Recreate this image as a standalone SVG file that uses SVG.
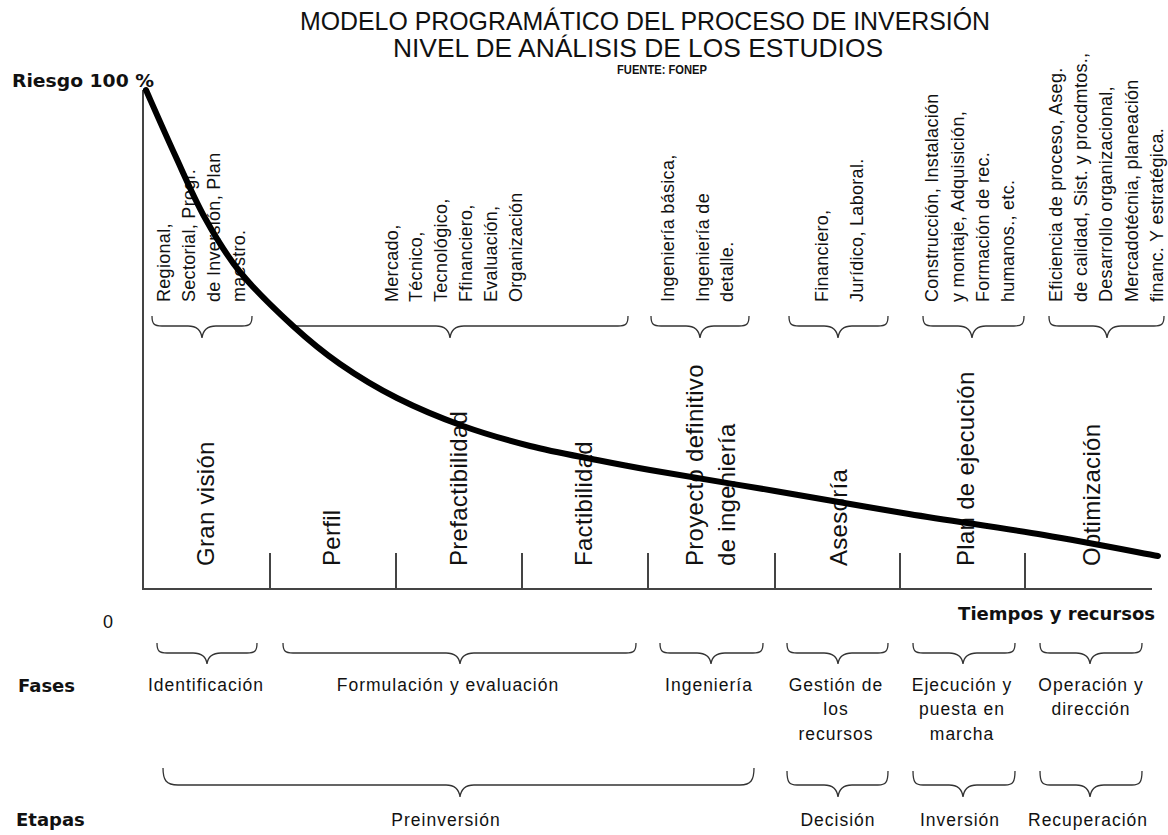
<svg xmlns="http://www.w3.org/2000/svg" width="1168" height="835" viewBox="0 0 1168 835">
<style>
.t{font-family:"Liberation Sans",Arial,sans-serif;fill:#111}
.title{font-size:25.5px;text-anchor:middle}
.rot{font-size:18px;letter-spacing:0.3px}
.big{font-size:24px;letter-spacing:0.3px}
.lbl{font-size:17.5px;letter-spacing:1px;text-anchor:middle}
.b{font-family:"DejaVu Sans",Verdana,sans-serif;font-weight:bold;font-size:18px;fill:#111}
.brace{fill:none;stroke:#333;stroke-width:1.3}
.axis{fill:none;stroke:#444;stroke-width:2}
.curve{fill:none;stroke:#000;stroke-width:6;stroke-linecap:round;stroke-linejoin:round}
</style>
<rect width="1168" height="835" fill="#fff"/>

<g id="title">
<text class="t title" x="645" y="30" textLength="690" lengthAdjust="spacingAndGlyphs">MODELO PROGRAMÁTICO DEL PROCESO DE INVERSIÓN</text>
<text class="t title" x="638" y="57" textLength="490" lengthAdjust="spacingAndGlyphs">NIVEL DE ANÁLISIS DE LOS ESTUDIOS</text>
<text x="662" y="74" text-anchor="middle" font-family="Liberation Sans, Arial, sans-serif" font-weight="bold" font-size="12.5" fill="#111" textLength="90" lengthAdjust="spacingAndGlyphs">FUENTE: FONEP</text>
</g>

<g id="axis-labels">
<text class="b" x="12" y="87" textLength="142" lengthAdjust="spacingAndGlyphs">Riesgo 100 %</text>
<text class="t" x="108" y="628" font-size="18" text-anchor="middle">0</text>
<text class="b" x="1155" y="620" text-anchor="end">Tiempos y recursos</text>
<text class="b" x="18" y="692">Fases</text>
<text class="b" x="16" y="826">Etapas</text>
</g>

<g id="study-regional">
<text class="t rot" transform="translate(170,302) rotate(-90)">Regional,</text>
<text class="t rot" transform="translate(195,302) rotate(-90)">Sectorial, Progr.</text>
<text class="t rot" transform="translate(220,302) rotate(-90)">de Inversión, Plan</text>
<text class="t rot" transform="translate(245,302) rotate(-90)">maestro.</text>
<path class="brace" d="M152,316 C152,324 154,326 162,326 L188,326 C196,326 201,329 202,338 C203,329 208,326 216,326 L242,326 C250,326 252,324 252,316"/>
</g>

<g id="study-mercado">
<text class="t rot" transform="translate(398,302) rotate(-90)">Mercado,</text>
<text class="t rot" transform="translate(422,302) rotate(-90)">Técnico,</text>
<text class="t rot" transform="translate(447,302) rotate(-90)">Tecnológico,</text>
<text class="t rot" transform="translate(472,302) rotate(-90)">Ffinanciero,</text>
<text class="t rot" transform="translate(497,302) rotate(-90)">Evaluación,</text>
<text class="t rot" transform="translate(522,302) rotate(-90)">Organización</text>
<path class="brace" d="M291,326 L436,326 C444,326 449,329 450,338 C451,329 456,326 464,326 L618,326 C626,326 628,324 628,316"/>
</g>

<g id="study-ingenieria">
<text class="t rot" transform="translate(674,302) rotate(-90)">Ingeniería básica,</text>
<text class="t rot" transform="translate(709,302) rotate(-90)">Ingeniería de</text>
<text class="t rot" transform="translate(733,302) rotate(-90)">detalle.</text>
<path class="brace" d="M651,316 C651,324 653,326 661,326 L686,326 C694,326 699,329 700,338 C701,329 706,326 714,326 L739,326 C747,326 749,324 749,316"/>
</g>

<g id="study-financiero">
<text class="t rot" transform="translate(828,302) rotate(-90)">Financiero,</text>
<text class="t rot" transform="translate(863,302) rotate(-90)">Jurídico, Laboral.</text>
<path class="brace" d="M789,316 C789,324 791,326 799,326 L824,326 C832,326 837,329 838,338 C839,329 844,326 852,326 L878,326 C886,326 888,324 888,316"/>
</g>

<g id="study-construccion">
<text class="t rot" transform="translate(938,302) rotate(-90)">Construcción, Instalación</text>
<text class="t rot" transform="translate(964,302) rotate(-90)">y montaje, Adquisición,</text>
<text class="t rot" transform="translate(989,302) rotate(-90)">Formación de rec.</text>
<text class="t rot" transform="translate(1014,302) rotate(-90)">humanos., etc.</text>
<path class="brace" d="M923,316 C923,324 925,326 933,326 L958,326 C966,326 971,329 972,338 C973,329 978,326 986,326 L1014,326 C1022,326 1024,324 1024,316"/>
</g>

<g id="study-eficiencia">
<text class="t rot" transform="translate(1062,302) rotate(-90)">Eficiencia de proceso, Aseg.</text>
<text class="t rot" transform="translate(1087,302) rotate(-90)">de calidad, Sist. y procdmtos.,</text>
<text class="t rot" transform="translate(1112,302) rotate(-90)">Desarrollo organizacional,</text>
<text class="t rot" transform="translate(1138,302) rotate(-90)">Mercadotécnia, planeación</text>
<text class="t rot" transform="translate(1163,302) rotate(-90)">financ. Y estratégica.</text>
<path class="brace" d="M1049,316 C1049,324 1051,326 1059,326 L1093,326 C1101,326 1106,329 1107,338 C1108,329 1113,326 1121,326 L1154,326 C1162,326 1164,324 1164,316"/>
</g>

<g id="stage-labels">
<text class="t big" transform="translate(214,566) rotate(-90)">Gran visión</text>
<text class="t big" transform="translate(340,566) rotate(-90)">Perfil</text>
<text class="t big" transform="translate(467,566) rotate(-90)">Prefactibilidad</text>
<text class="t big" transform="translate(592,566) rotate(-90)">Factibilidad</text>
<text class="t big" transform="translate(703,566) rotate(-90)">Proyecto definitivo</text>
<text class="t big" transform="translate(735,566) rotate(-90)">de ingeniería</text>
<text class="t big" transform="translate(847,566) rotate(-90)">Asesoría</text>
<text class="t big" transform="translate(974,566) rotate(-90)">Plan de ejecución</text>
<text class="t big" transform="translate(1100,566) rotate(-90)">Optimización</text>
</g>

<g id="connectors">
<path class="axis" d="M143,90 L143,589 L1152,589"/>
<path class="axis" d="M270,553 V589 M396,553 V589 M522,553 V589 M648,553 V589 M775,553 V589 M900,553 V589 M1025,553 V589"/>
<path class="curve" d="M146,90 C150.8,100.8 165.2,133.7 175,155 C184.8,176.3 194.2,198.5 205,218 C215.8,237.5 225.3,254 240,272 C254.7,290 276.3,310.7 293,326 C309.7,341.3 322.7,352 340,364 C357.3,376 376.5,387.7 397,398 C417.5,408.3 440.8,418 463,426 C485.2,434 507.7,440.3 530,446 C552.3,451.7 577,456 597,460 C617,464 630,466.5 650,470 C679.7,475.2 731.8,483.7 775,491 C818.2,498.3 864.2,506.7 909,514 C953.8,521.3 1002.5,528 1044,535 C1085.5,542 1139,552.5 1158,556"/>
</g>

<g id="fase-identificacion">
<path class="brace" d="M157,643 C157,651 159,653 167,653 L193,653 C201,653 206,656 207,664 C208,656 213,653 221,653 L247,653 C255,653 257,651 257,643"/>
<text class="t lbl" x="206" y="691">Identificación</text>
</g>
<g id="fase-formulacion">
<path class="brace" d="M283,643 C283,651 285,653 293,653 L446,653 C454,653 459,656 460,664 C461,656 466,653 474,653 L626,653 C634,653 636,651 636,643"/>
<text class="t lbl" x="448" y="691">Formulación y evaluación</text>
</g>
<g id="fase-ingenieria">
<path class="brace" d="M660,643 C660,651 662,653 670,653 L697,653 C705,653 710,656 711,664 C712,656 717,653 725,653 L753,653 C761,653 763,651 763,643"/>
<text class="t lbl" x="709" y="691">Ingeniería</text>
</g>
<g id="fase-gestion">
<path class="brace" d="M787,643 C787,651 789,653 797,653 L824,653 C832,653 837,656 838,664 C839,656 844,653 852,653 L878,653 C886,653 888,651 888,643"/>
<text class="t lbl" x="836" y="691">Gestión de</text>
<text class="t lbl" x="836" y="715">los</text>
<text class="t lbl" x="836" y="740">recursos</text>
</g>
<g id="fase-ejecucion">
<path class="brace" d="M913,643 C913,651 915,653 923,653 L949,653 C957,653 962,656 963,664 C964,656 969,653 977,653 L1005,653 C1013,653 1015,651 1015,643"/>
<text class="t lbl" x="962" y="691">Ejecución y</text>
<text class="t lbl" x="962" y="715">puesta en</text>
<text class="t lbl" x="962" y="740">marcha</text>
</g>
<g id="fase-operacion">
<path class="brace" d="M1040,643 C1040,651 1042,653 1050,653 L1076,653 C1084,653 1089,656 1090,664 C1091,656 1096,653 1104,653 L1132,653 C1140,653 1142,651 1142,643"/>
<text class="t lbl" x="1091" y="691">Operación y</text>
<text class="t lbl" x="1091" y="715">dirección</text>
</g>

<g id="etapa-preinversion">
<path class="brace" d="M163,768 C163,780 166,785 178,785 L446,785 C454,785 459,789 460,797 C461,789 466,785 474,785 L740,785 C751,785 754,780 754,768"/>
<text class="t lbl" x="446" y="826">Preinversión</text>
</g>
<g id="etapa-decision">
<path class="brace" d="M787,771 C787,782 789,785 797,785 L824,785 C832,785 837,788 838,797 C839,788 844,785 852,785 L878,785 C886,785 888,782 888,771"/>
<text class="t lbl" x="838" y="826">Decisión</text>
</g>
<g id="etapa-inversion">
<path class="brace" d="M913,771 C913,782 915,785 923,785 L949,785 C957,785 962,788 963,797 C964,788 969,785 977,785 L1005,785 C1013,785 1015,782 1015,771"/>
<text class="t lbl" x="960" y="826">Inversión</text>
</g>
<g id="etapa-recuperacion">
<path class="brace" d="M1040,771 C1040,782 1042,785 1050,785 L1076,785 C1084,785 1089,788 1090,797 C1091,788 1096,785 1104,785 L1132,785 C1140,785 1142,782 1142,771"/>
<text class="t lbl" x="1088" y="826">Recuperación</text>
</g>
</svg>
